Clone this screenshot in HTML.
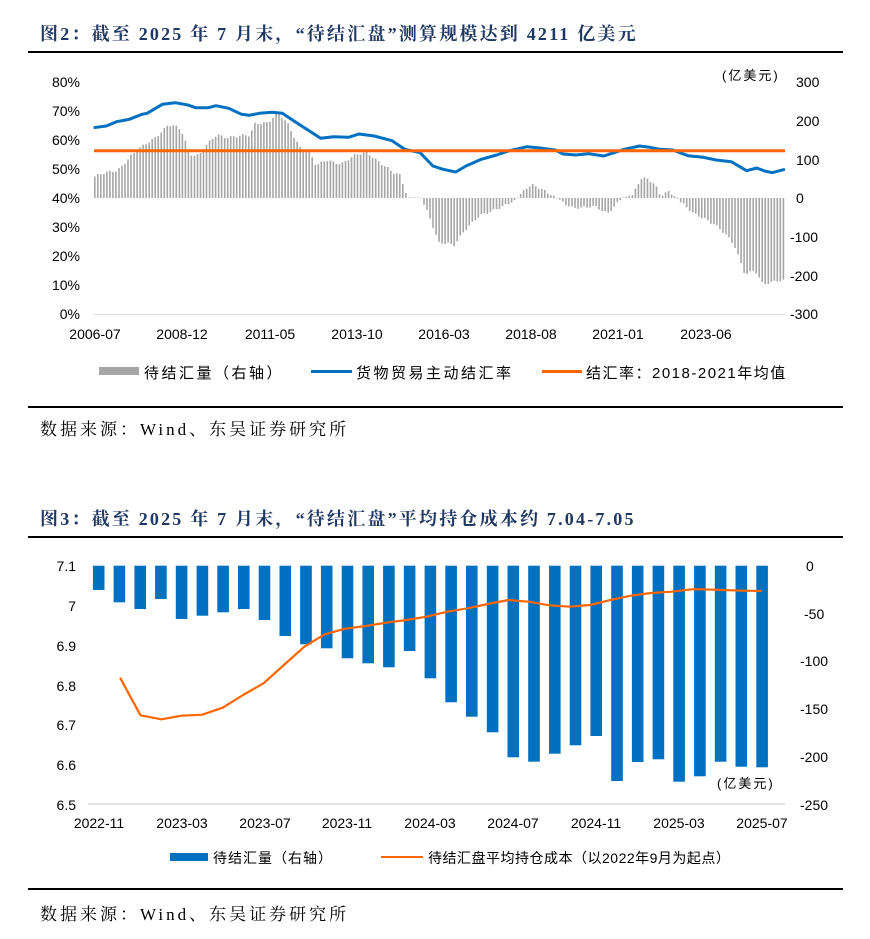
<!DOCTYPE html>
<html><head><meta charset="utf-8">
<style>
body{margin:0;background:#fff;width:870px;height:939px;overflow:hidden;position:relative;font-family:"Liberation Serif","Noto Serif CJK SC",serif}
.t{position:absolute;left:40px;font-weight:bold;color:#1f3864;font-size:18px;letter-spacing:2.2px;font-family:"Liberation Serif","Noto Serif CJK SC",serif;white-space:nowrap}
.r{position:absolute;left:28px;width:815px;height:2px;background:#000}
.s{position:absolute;left:40px;font-size:17px;letter-spacing:3px;color:#000;white-space:nowrap}
svg{position:absolute;left:0;top:0}
</style></head><body>
<div class="t" style="top:20px">图2：截至 2025 年 7 月末，“待结汇盘”测算规模达到 4211 亿美元</div>
<div class="r" style="top:51px"></div>
<div class="r" style="top:406px"></div>
<div class="s" style="top:415px">数据来源：Wind、东吴证券研究所</div>
<div class="t" style="top:505px">图3：截至 2025 年 7 月末，“待结汇盘”平均持仓成本约 7.04-7.05</div>
<div class="r" style="top:536px"></div>
<div class="r" style="top:888px"></div>
<div class="s" style="top:900px">数据来源：Wind、东吴证券研究所</div>
<svg id="s" width="870" height="939" font-family="Liberation Sans, Noto Sans CJK SC, sans-serif" font-size="14">
<g id="c1"></g><g id="c2"></g>
<g fill="#000" text-anchor="end">
<text x="80" y="87">80%</text><text x="80" y="116">70%</text><text x="80" y="145">60%</text><text x="80" y="174">50%</text><text x="80" y="203">40%</text><text x="80" y="232">30%</text><text x="80" y="261">20%</text><text x="80" y="290">10%</text><text x="80" y="319">0%</text>
</g>
<g fill="#000" text-anchor="start">
<text x="796" y="87">300</text><text x="796" y="126">200</text><text x="796" y="165">100</text><text x="796" y="203">0</text><text x="790" y="242">-100</text><text x="790" y="281">-200</text><text x="790" y="319">-300</text>
<text x="722" y="80" font-size="13" letter-spacing="2">(亿美元)</text>
</g>
<g fill="#000" text-anchor="middle">
<text x="95" y="339">2006-07</text><text x="182" y="339">2008-12</text><text x="270" y="339">2011-05</text><text x="357" y="339">2013-10</text><text x="444" y="339">2016-03</text><text x="531" y="339">2018-08</text><text x="618" y="339">2021-01</text><text x="706" y="339">2023-06</text>
</g>
<g font-size="15" letter-spacing="2.5">
<rect x="99" y="367" width="40" height="8" fill="#a6a6a6"/><text x="144" y="378">待结汇量（右轴）</text>
<rect x="311" y="370" width="41" height="3" fill="#0070c0"/><text x="356" y="378">货物贸易主动结汇率</text>
<rect x="542" y="370" width="40" height="3" fill="#ff6600"/><text x="586" y="378" letter-spacing="1.5">结汇率：2018-2021年均值</text>
</g>
<g fill="#000" text-anchor="end">
<text x="76" y="571">7.1</text><text x="76" y="611">7</text><text x="76" y="651">6.9</text><text x="76" y="691">6.8</text><text x="76" y="730">6.7</text><text x="76" y="770">6.6</text><text x="76" y="810">6.5</text>
</g>
<g fill="#000" text-anchor="start">
<text x="806" y="571">0</text><text x="804" y="619">-50</text><text x="800" y="666">-100</text><text x="800" y="714">-150</text><text x="800" y="762">-200</text><text x="800" y="810">-250</text>
<text x="717" y="788" font-size="13" letter-spacing="2">(亿美元)</text>
</g>
<g fill="#000" text-anchor="middle">
<text x="99" y="828">2022-11</text><text x="182" y="828">2023-03</text><text x="265" y="828">2023-07</text><text x="347" y="828">2023-11</text><text x="430" y="828">2024-03</text><text x="513" y="828">2024-07</text><text x="596" y="828">2024-11</text><text x="679" y="828">2025-03</text><text x="762" y="828">2025-07</text>
</g>
<rect x="170" y="853" width="38" height="8" fill="#0070c0"/><text x="213" y="863" font-size="14" letter-spacing="1">待结汇量（右轴）</text>
<rect x="381" y="856" width="42" height="2" fill="#ff6600"/><text x="428" y="863" font-size="14" letter-spacing="0.5">待结汇盘平均持仓成本（以2022年9月为起点）</text>
</svg>
<script>
var NS="http://www.w3.org/2000/svg";
function el(p,t,a){var e=document.createElementNS(NS,t);for(var k in a)e.setAttribute(k,a[k]);p.appendChild(e);return e;}
var c1=document.getElementById('c1'),c2=document.getElementById('c2');
function interp(pts,x){for(var i=0;i<pts.length-1;i++){if(x<=pts[i+1][0]){var t=(x-pts[i][0])/(pts[i+1][0]-pts[i][0]);return pts[i][1]+t*(pts[i+1][1]-pts[i][1]);}}return pts[pts.length-1][1];}
var env=[[105,350],[150,330],[175,290],[200,260],[225,230],[250,195],[270,205],[280,225],[290,280],[310,285],[320,265],[345,225],[360,230],[380,228],[410,228],[420,190],[445,185],[465,160],[485,195],[500,240],[510,265],[525,270],[540,320],[560,300],[590,310],[620,285],[640,275],[655,295],[690,340],[705,345],[712,380],[720,412],[745,413],[760,460],[780,550],[810,555],[830,510],[860,470],[900,440],[920,430],[935,413],[950,385],[965,378],[1000,400],[1010,413],[1040,440],[1060,445],[1090,440],[1110,458],[1125,440],[1140,413],[1160,405],[1175,360],[1190,356],[1205,375],[1215,405],[1230,395],[1245,412],[1265,440],[1280,465],[1300,475],[1320,490],[1340,520],[1360,560],[1380,640],[1400,630],[1415,675],[1430,670],[1445,660],[1460,660]];
var y0=198;
for(var i=0;i<229;i++){var x=94+i*3.02;var zx=(x-40)*1.96;var zy=interp(env,zx);var y=60+zy/3;
 var n=Math.sin(i*1.7)*2+Math.sin(i*0.53)*1.5;var dy=y-y0;if(Math.abs(dy)>3)y+=n*(dy>0?1:-1)*0.6;
 el(c1,'rect',{x:x.toFixed(1),y:Math.min(y,y0).toFixed(1),width:1.6,height:Math.max(0.5,Math.abs(y-y0)).toFixed(1),fill:'#a6a6a6'});}
el(c1,'line',{x1:94,y1:314.5,x2:785,y2:314.5,stroke:'#d9d9d9','stroke-width':1});
var bl=[[105,203],[130,198],[150,185],[175,178],[200,163],[210,160],[240,133],[265,128],[290,135],[305,143],[330,143],[345,137],[370,145],[395,163],[410,166],[430,160],[455,157],[475,160],[500,185],[525,210],[550,235],[575,230],[605,232],[625,222],[655,228],[690,242],[715,268],[745,278],[770,318],[790,328],[815,336],[835,318],[865,298],[895,285],[920,272],[955,260],[985,265],[1010,270],[1025,282],[1050,285],[1075,281],[1105,288],[1125,278],[1145,268],[1175,258],[1195,262],[1215,268],[1240,270],[1270,287],[1300,292],[1325,300],[1355,305],[1385,332],[1405,324],[1420,333],[1435,338],[1460,328]];
el(c1,'polyline',{points:bl.map(function(p){return (40+p[0]/1.96).toFixed(1)+','+(60+p[1]/3).toFixed(1)}).join(' '),fill:'none',stroke:'#0070c0','stroke-width':3,'stroke-linejoin':'round'});
el(c1,'line',{x1:94,y1:150.7,x2:785,y2:150.7,stroke:'#ff6600','stroke-width':3});
var bb=[120,157,177,147,207,197,187,177,210,258,283,295,325,340,352,303,385,457,500,547,622,635,611,586,558,693,636,628,695,679,635,650,652];
for(var i=0;i<33;i++){var cx=98.7+i*20.73;var yb=550+bb[i]/3;el(c2,'rect',{x:(cx-5.8).toFixed(1),y:565.7,width:11.6,height:(yb-565.7).toFixed(1),fill:'#0070c0'});}
el(c2,'line',{x1:88,y1:804,x2:785,y2:804,stroke:'#d9d9d9','stroke-width':1.5});
var ol=[[157,383],[197,496],[238,508],[278,497],[318,494],[358,473],[398,435],[438,400],[478,345],[518,290],[558,253],[598,236],[638,228],[678,218],[718,210],[758,200],[798,185],[838,175],[878,162],[918,150],[958,155],[998,166],[1038,170],[1078,165],[1118,150],[1158,137],[1198,129],[1238,125],[1278,118],[1298,118],[1338,120],[1378,122],[1415,123]];
el(c2,'polyline',{points:ol.map(function(p){return (40+p[0]/1.96).toFixed(1)+','+(550+p[1]/3).toFixed(1)}).join(' '),fill:'none',stroke:'#ff6600','stroke-width':2.2,'stroke-linejoin':'round'});
</script>
</body></html>
